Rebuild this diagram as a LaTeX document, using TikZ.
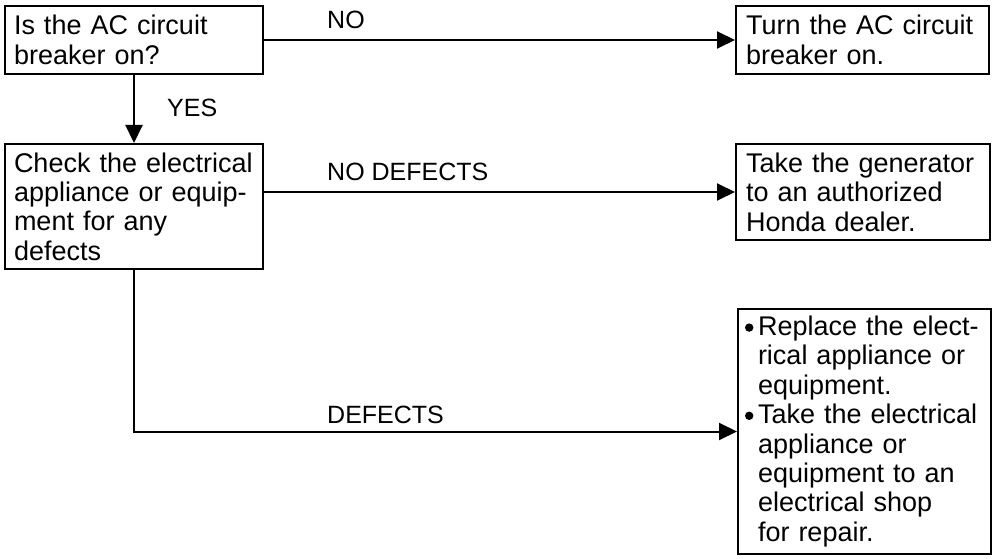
\documentclass[tikz,border=0pt]{standalone}
\usepackage{fontspec}
\setmainfont{Liberation Sans}
\usetikzlibrary{arrows.meta}
\newcommand{\bul}{\makebox[15pt][l]{\hspace{2pt}\raisebox{3.8pt}{\tikz\fill[black] (0,0) circle[radius=4.2pt];}}}
\begin{document}
\begin{tikzpicture}[x=1pt,y=-1pt,
  box/.style={draw, line width=2pt, anchor=north west, inner ysep=0pt,
    align=left, font=\fontsize{27}{29.4}\selectfont},
  lbl/.style={anchor=base west, inner sep=0pt, font=\fontsize{25}{28}\selectfont},
  arr/.style={line width=2pt, -{Triangle[length=18pt,width=17pt]}}]
\useasboundingbox[fill=white] (0,0) rectangle (994,559);
% boxes
\node[box, inner xsep=9pt, text width=240pt, minimum width=258pt, minimum height=68pt]
  (A) at (4,5) {Is the AC circuit\\breaker on?};
\node[box, inner xsep=9pt, text width=240pt, minimum width=258pt, minimum height=125pt]
  (B) at (4,143) {Check the electrical\\appliance or equip-\\ment for any\\defects};
\node[box, inner xsep=10pt, text width=233pt, minimum width=253pt, minimum height=68pt]
  (C) at (735,5) {Turn the AC circuit\\breaker on.};
\node[box, inner xsep=10pt, text width=234pt, minimum width=254pt, minimum height=96pt]
  (D) at (735,143) {Take the generator\\to an authorized\\Honda dealer.};
\node[box, inner xsep=5pt, text width=243pt, minimum width=253pt, minimum height=245pt]
  (E) at (737,308) {\bul Replace the elect-\\
  \hspace*{15pt}rical appliance or\\
  \hspace*{15pt}equipment.\\
  \bul Take the electrical\\
  \hspace*{15pt}appliance or\\
  \hspace*{15pt}equipment to an\\
  \hspace*{15pt}electrical shop\\
  \hspace*{15pt}for repair.};
% connectors
\draw[arr] (A) -- (C);
\draw[arr] (A) -- (B);
\draw[arr] (B.east |- D.west) -- (D.west);
\draw[arr] (B.south) |- (E.west);
% labels
\node[lbl] (lno) at (327,29) {NO};
\node[lbl] (lyes) at (167,117) {YES};
\node[lbl] (lnod) at (327,181) {NO DEFECTS};
\node[lbl] (ldef) at (327,423) {DEFECTS};
\end{tikzpicture}
\end{document}
